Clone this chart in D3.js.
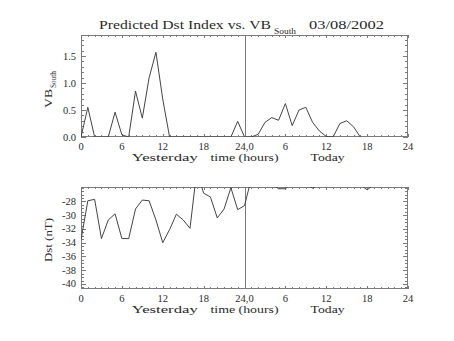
<!DOCTYPE html>
<html><head><meta charset="utf-8">
<script src="https://cdn.jsdelivr.net/npm/d3@7"></script>
<style>
body{margin:0;background:#fff}
svg{display:block}
text{font-family:"Liberation Serif","DejaVu Serif",serif;fill:#2a2a2a}
</style>
</head><body>
<svg id="c" width="454" height="341"></svg>
<script>
// ---- data ----
const hoursVB = [0,1,2,3,4,5,6,7,8,9,10,11,12,13,14,15,16,17,18,19,20,21,22,23,24,25,26,27,28,29,30,31,32,33,34,35,36,37,38,39,40,41];
const vbSouth = [0,0.55,0,0,0,0.46,0.04,0,0.85,0.35,1.1,1.57,0.7,0,0,0,0,0,0,0,0,0,0,0.29,0,0,0.05,0.27,0.36,0.31,0.62,0.21,0.5,0.55,0.27,0.11,0.01,0,0.25,0.3,0.19,0];
const hoursDst = [0,1,2,3,4,5,6,7,8,9,10,11,12,13,14,15,16,17,18,19,20,21,22,23,24,25,26,27,28,29,30,31,32,33,34,35,36,37,38,39,40,41,42,43,44,45,46,47];
const dst = [-33.6,-27.9,-27.7,-33.4,-30.7,-29.8,-33.4,-33.4,-29.1,-27.8,-27.9,-30.7,-34.0,-32.1,-29.85,-30.7,-31.9,-23.5,-26.8,-27.35,-30.4,-29.1,-26.0,-29.2,-28.6,-24.7,-25.0,-25.3,-25.5,-26.15,-26.15,-25.4,-25.2,-25.6,-26.05,-25.5,-25.1,-25.0,-24.8,-25.0,-25.3,-25.6,-26.3,-25.6,-25.2,-25.0,-24.9,-25.0];
const xTickValues = [0,6,12,18,24,30,36,42,48];
const xTickLabels = ["0","6","12","18","24,0","6","12","18","24"];
const vbTicks = [0,0.5,1.0,1.5];
const vbTickLabels = ["0.0","0.5","1.0","1.5"];
const dstTicks = [-28,-30,-32,-34,-36,-38,-40];
const dstTickLabels = ["-28","-30","-32","-34","-36","-38","-40"];
const xDayLabels = ["Yesterday","time (hours)","Today"];
const xDayPos = [12.3,24,36.2];
const xDayWidth = [66,68,34];

// ---- layout ----
const svg = d3.select("#c");
const L = 81, R = 408;
const x = d3.scaleLinear().domain([0,48]).range([L,R]);
const yTop = d3.scaleLinear().domain([0,1.89]).range([137,35]);
const yBot = d3.scaleLinear().domain([-40.73,-25.9]).range([289,187]);

const frameCol = "#7a7a7a", lineCol = "#444";

function spaced(sel, w){
  return sel.attr("textLength",w).attr("lengthAdjust","spacingAndGlyphs");
}

function panel(y, yTicks, yLabels, yMinorStep, id, xs, ys){
  const [y0,y1] = y.range();
  const [d0,d1] = y.domain();
  const g = svg.append("g");
  svg.append("clipPath").attr("id",id).append("rect")
    .attr("x",L).attr("y",y1).attr("width",R-L).attr("height",y0-y1);
  g.append("rect").attr("x",L+0.5).attr("y",Math.round(y1)+0.5)
    .attr("width",R-L-1).attr("height",Math.round(y0)-Math.round(y1)-1)
    .attr("fill","none").attr("stroke",frameCol).attr("stroke-width",1);
  for(let h=0; h<=48; h++){
    const major = h%6===0;
    const len = major?3:2;
    const px = Math.round(x(h))+0.5;
    g.append("line").attr("x1",px).attr("x2",px).attr("y1",Math.round(y0)).attr("y2",Math.round(y0)-len).attr("stroke",frameCol);
    g.append("line").attr("x1",px).attr("x2",px).attr("y1",Math.round(y1)).attr("y2",Math.round(y1)+len).attr("stroke",frameCol);
  }
  const lo = Math.ceil(Math.min(d0,d1)/yMinorStep - 1e-6);
  const hi = Math.floor(Math.max(d0,d1)/yMinorStep + 1e-6);
  for(let k=lo;k<=hi;k++){
    const v = k*yMinorStep;
    const major = yTicks.some(t=>Math.abs(t-v)<1e-6);
    const len = major?5:3;
    const py = Math.round(y(v))+0.5;
    g.append("line").attr("x1",L).attr("x2",L+len).attr("y1",py).attr("y2",py).attr("stroke",frameCol);
    g.append("line").attr("x1",R).attr("x2",R-len).attr("y1",py).attr("y2",py).attr("stroke",frameCol);
  }
  yTicks.forEach((t,i)=>{
    g.append("text").attr("x",L-5).attr("y",y(t)+3.5).attr("text-anchor","end")
      .attr("font-size","10.5px").text(yLabels[i]);
  });
  xTickValues.forEach((t,i)=>{
    g.append("text").attr("x",x(t)).attr("y",y0+13).attr("text-anchor","middle")
      .attr("font-size","10.5px").text(xTickLabels[i]);
  });
  xDayLabels.forEach((t,i)=>{
    spaced(g.append("text").attr("x",x(xDayPos[i])-xDayWidth[i]/2).attr("y",y0+24)
      .attr("font-size","11px").text(t), xDayWidth[i]);
  });
  g.append("line").attr("x1",Math.round(x(24))+0.5).attr("x2",Math.round(x(24))+0.5)
    .attr("y1",y0).attr("y2",y1).attr("stroke",frameCol);
  const line = d3.line().x((d,i)=>x(xs[i])).y(d=>y(d));
  svg.append("path").datum(ys).attr("d",line).attr("fill","none")
    .attr("stroke",lineCol).attr("stroke-width",1).attr("clip-path",`url(#${id})`);
}

panel(yTop, vbTicks, vbTickLabels, 0.1, "clipTop", hoursVB, vbSouth);
panel(yBot, dstTicks, dstTickLabels, 0.5, "clipBot", hoursDst, dst);

// title
spaced(svg.append("text").attr("x",99).attr("y",29).attr("font-size","13.5px")
  .text("Predicted Dst Index vs. VB"), 172);
spaced(svg.append("text").attr("x",274).attr("y",34).attr("font-size","8px").text("South"), 22);
spaced(svg.append("text").attr("x",309).attr("y",29).attr("font-size","13.5px").text("03/08/2002"), 75);

// y axis titles
const yt1 = svg.append("g").attr("transform","translate(52,98) rotate(-90)");
spaced(yt1.append("text").attr("x",-10).attr("y",0).attr("font-size","11px").text("VB"), 19);
spaced(yt1.append("text").attr("x",10).attr("y",3.5).attr("font-size","7.5px").text("South"), 17);
const yt2 = svg.append("g").attr("transform","translate(52,240) rotate(-90)");
spaced(yt2.append("text").attr("x",-22).attr("y",0).attr("font-size","11px").text("Dst (nT)"), 44);
</script>
</body></html>
